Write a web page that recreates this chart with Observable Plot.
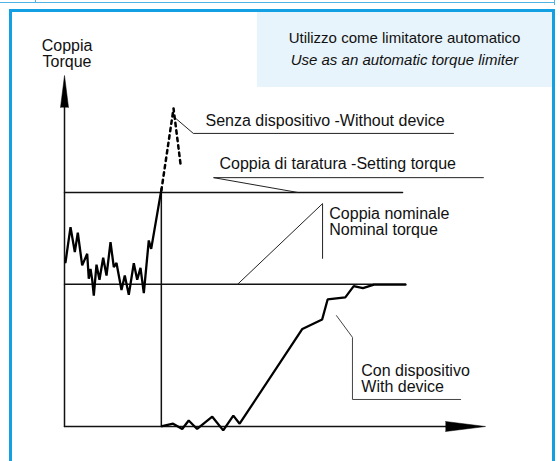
<!DOCTYPE html>
<html>
<head>
<meta charset="utf-8">
<script src="https://cdn.jsdelivr.net/npm/d3@7"></script>
<script src="https://cdn.jsdelivr.net/npm/@observablehq/plot@0.6"></script>
<style>
  html, body { margin: 0; padding: 0; background: #fff; width: 560px; height: 461px; overflow: hidden; }
  #wrap { position: relative; width: 560px; height: 461px; font-family: "Liberation Sans", Arial, sans-serif; }
  #strip { position: absolute; left: 0; top: 2px; width: 555px; height: 0; border-top: 1px solid #4fb3e6; }
  .tick { position: absolute; top: 0; width: 0; height: 2px; border-left: 1px solid #4fb3e6; }
  #frame { position: absolute; left: 9px; top: 9px; width: 546px; height: 470px; box-sizing: border-box; border: 3px solid #12a0e3; background: #fff; }
  #titlebox { position: absolute; left: 257px; top: 12px; width: 295px; height: 75px; background: #e8f4fb; }
  #title { position: absolute; left: 257px; top: 27px; width: 295px; text-align: center; font-size: 15px; line-height: 22px; color: #111; }
  #chart { position: absolute; left: 0; top: 0; }
</style>
</head>
<body>
<div id="wrap">
  <div id="strip"></div>
  <div class="tick" style="left:35px"></div>
  <div class="tick" style="left:554px;height:5px"></div>
  <div id="frame"></div>
  <div id="titlebox"></div>
  <div id="title"></div>
  <div id="chart"></div>
</div>
<script>
// ---- Data (time units 0-100, torque units 0-100) ----
const titleLines = ["Utilizzo come limitatore automatico", "Use as an automatic torque limiter"];
const axisLabel = ["Coppia", "Torque"];

const settingTorque = 66.7;
const nominalTorque = 40.5;
const settingEndX = 80.3;
const nominalEndX = 81.0;
const tripTime = 23.0;

// Torque before the limiter trips (noisy operation)
const noisyT = [0.24, 1.43, 2.45, 3.16, 4.20, 5.39, 5.77, 6.18, 6.58, 6.96, 7.60, 8.31, 9.19, 9.98, 10.93, 11.71, 12.35, 13.54, 14.32, 15.27, 16.46, 17.27, 18.05, 18.84, 20.02, 20.59, 23.04];
const noisyV = [46.8, 56.8, 49.7, 55.2, 45.9, 49.2, 42.1, 44.9, 41.8, 37.3, 46.1, 41.8, 48.1, 43.0, 52.5, 45.4, 46.6, 38.9, 43.0, 37.5, 46.5, 41.8, 45.2, 38.0, 53.0, 50.6, 67.7];

// Without device (dotted peak)
const withoutT = [23.0, 25.9, 27.6];
const withoutV = [67.2, 90.6, 74.4];

// With device (torque restart)
const withT = [23.2, 25.8, 27.96, 29.5, 31.5, 35.1, 37.7, 40.1, 41.6, 56.5, 61.2, 62.5, 66.7, 68.7, 70.9, 73.5, 81.0];
const withV = [0.1, 0.8, -0.7, 1.7, -0.7, 2.8, -1.1, 3.1, 0.8, 27.8, 30.5, 36.2, 36.8, 40.0, 39.4, 40.4, 40.4];

// Annotation leaders
const leaderSenzaT = [26.4, 30.6, 92.4];
const leaderSenzaV = [87.8, 83.5, 83.5];
const leaderSettingT = [55.3, 35.4, 99.5];
const leaderSettingV = [66.7, 70.9, 70.9];
const leaderNominalT = [41.1, 61.3, 61.3];
const leaderNominalV = [40.5, 63.5, 47.9];
const leaderConT = [64.6, 68.4, 68.4, 94.1];
const leaderConV = [31.6, 25.4, 7.7, 7.7];

// Labels
const labelSenza = "Senza dispositivo -Without device";
const labelSetting = "Coppia di taratura -Setting torque";
const labelNominal = ["Coppia nominale", "Nominal torque"];
const labelCon = ["Con dispositivo", "With device"];
const labelSenzaPos = [33.5, 85.5];
const labelSettingPos = [36.8, 73.5];
const labelNominalPos = [62.9, 54.7];
const labelConPos = [70.5, 9.7];
const axisLabelPos = [0.6, 102.4];

// Axis arrow heads
const yArrowT = [-0.95, 0, 0.95];
const yArrowV = [90.9, 100, 90.9];
const xArrowT = [90.5, 100, 90.5];
const xArrowV = [1.42, 0, -1.42];

document.getElementById("title").innerHTML = titleLines[0] + "<br><i>" + titleLines[1] + "</i>";

const pts = (xs, ys) => xs.map((x, i) => ({x, y: ys[i]}));
const lbl = (text, pos) => [{t: Array.isArray(text) ? text.join("\n") : text, x: pos[0], y: pos[1]}];

const chart = Plot.plot({
  width: 560,
  height: 461,
  marginLeft: 64,
  marginRight: 75,
  marginTop: 75,
  marginBottom: 35,
  x: {domain: [0, 100], axis: null},
  y: {domain: [0, 100], axis: null},
  style: {background: "transparent", fontFamily: "'Liberation Sans', Arial, sans-serif", overflow: "visible"},
  marks: [
    // axes
    Plot.line([{x: 0, y: 0}, {x: 0, y: 92}], {x: "x", y: "y", stroke: "#111", strokeWidth: 1.5}),
    Plot.line([{x: 0, y: 0}, {x: 92, y: 0}], {x: "x", y: "y", stroke: "#111", strokeWidth: 1.5}),
    Plot.line(pts(yArrowT, yArrowV), {x: "x", y: "y", fill: "#000", stroke: "#000", strokeWidth: 0.5}),
    Plot.line(pts(xArrowT, xArrowV), {x: "x", y: "y", fill: "#000", stroke: "#000", strokeWidth: 0.5}),
    // reference lines
    Plot.line([{x: 0, y: settingTorque}, {x: settingEndX, y: settingTorque}], {x: "x", y: "y", stroke: "#111", strokeWidth: 1.5}),
    Plot.line([{x: 0, y: nominalTorque}, {x: nominalEndX, y: nominalTorque}], {x: "x", y: "y", stroke: "#111", strokeWidth: 1.5}),
    Plot.line([{x: tripTime, y: 0}, {x: tripTime, y: settingTorque}], {x: "x", y: "y", stroke: "#111", strokeWidth: 1.5}),
    // leaders
    Plot.line(pts(leaderSenzaT, leaderSenzaV), {x: "x", y: "y", stroke: "#222", strokeWidth: 1}),
    Plot.line(pts(leaderSettingT, leaderSettingV), {x: "x", y: "y", stroke: "#222", strokeWidth: 1}),
    Plot.line(pts(leaderNominalT, leaderNominalV), {x: "x", y: "y", stroke: "#222", strokeWidth: 1}),
    Plot.line(pts(leaderConT, leaderConV), {x: "x", y: "y", stroke: "#444", strokeWidth: 1}),
    // curves
    Plot.line(pts(withoutT, withoutV), {x: "x", y: "y", stroke: "#000", strokeWidth: 2.5, strokeDasharray: "3.5,4"}),
    Plot.line(pts(noisyT, noisyV), {x: "x", y: "y", stroke: "#000", strokeWidth: 2.3, strokeLinejoin: "miter"}),
    Plot.line(pts(withT, withV), {x: "x", y: "y", stroke: "#000", strokeWidth: 2.3, strokeLinejoin: "miter"}),
    // labels
    Plot.text(lbl(labelSenza, labelSenzaPos), {x: "x", y: "y", text: "t", textAnchor: "start", lineAnchor: "bottom", fontSize: 16, fill: "#111"}),
    Plot.text(lbl(labelSetting, labelSettingPos), {x: "x", y: "y", text: "t", textAnchor: "start", lineAnchor: "bottom", fontSize: 16, fill: "#111"}),
    Plot.text(lbl(labelNominal, labelNominalPos), {x: "x", y: "y", text: "t", textAnchor: "start", lineAnchor: "bottom", lineHeight: 1, fontSize: 16, fill: "#111"}),
    Plot.text(lbl(labelCon, labelConPos), {x: "x", y: "y", text: "t", textAnchor: "start", lineAnchor: "bottom", lineHeight: 1.03, fontSize: 16, fill: "#111"}),
    Plot.text(lbl(axisLabel, axisLabelPos), {x: "x", y: "y", text: "t", textAnchor: "middle", lineAnchor: "bottom", lineHeight: 1, fontSize: 16, fill: "#111"})
  ]
});
document.getElementById("chart").appendChild(chart);
</script>
</body>
</html>
